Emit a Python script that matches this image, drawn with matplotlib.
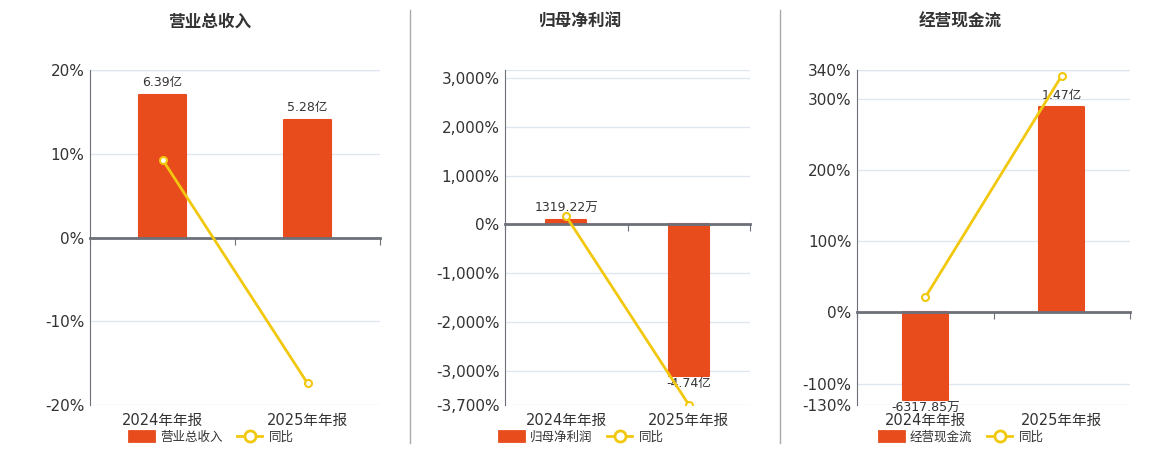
import matplotlib
matplotlib.use("Agg")
import matplotlib.pyplot as plt
from matplotlib.lines import Line2D
from matplotlib.patches import Patch
from matplotlib.ticker import FuncFormatter

plt.rcParams['font.family'] = ['DejaVu Sans', 'Noto Sans CJK SC']

categories = ['2024年年报', '2025年年报']

revenue = [6.39, 5.28]            # 亿
revenue_yoy = [9.3, -17.4]        # %
revenue_labels = ['6.39亿', '5.28亿']

profit = [0.1319, -4.74]          # 亿
profit_yoy = [164, -3693]
profit_labels = ['1319.22万', '-4.74亿']

cash = [-0.6318, 1.47]            # 亿
cash_yoy = [21, 332]
cash_labels = ['-6317.85万', '1.47亿']

BAR = '#E84B1C'
LINE = '#F2C80F'
AXC = '#6E7079'
GRID = '#E0E6F1'
TXT = '#333333'

W, H = 1160, 450
fig = plt.figure(figsize=(W / 100, H / 100), dpi=100)

panels = [
    # title, bars, yoy, labels, axes px (l, r), line ylim, yticks, bar units per %, title x, legend x
    ('营业总收入', revenue, revenue_yoy, revenue_labels, (90, 380), (-20, 20),
     [-20, -10, 0, 10, 20], 0.375, 210, 211),
    ('归母净利润', profit, profit_yoy, profit_labels, (505, 750), (-3700, 3165),
     [-3700, -3000, -2000, -1000, 0, 1000, 2000, 3000], 1 / 655.0, 580, 581),
    ('经营现金流', cash, cash_yoy, cash_labels, (857, 1130), (-130, 340),
     [-130, -100, 0, 100, 200, 300, 340], 1 / 195.6, 960, 961),
]

top_px, bot_px = 70, 405

for title, bars, yoy, labels, (l, r), ylim, yticks, k, tx, lx in panels:
    ax = fig.add_axes([l / W, 1 - bot_px / H, (r - l) / W, (bot_px - top_px) / H])
    ax2 = ax.twinx()
    ax.set_zorder(ax2.get_zorder() + 1)
    ax.patch.set_visible(False)

    x = list(range(len(categories)))
    ax.set_xlim(-0.5, 1.5)
    ax2.set_xlim(-0.5, 1.5)
    ax.set_ylim(*ylim)
    ax2.set_ylim(ylim[0] * k, ylim[1] * k)

    # grid sits under the bars, so it lives on the bar axes
    for t in list(yticks) + [ylim[1]]:
        ax2.axhline(t * k, color=GRID, lw=1, zorder=0)

    bc = ax2.bar(x, bars, width=0.33, color=BAR, edgecolor=BAR, linewidth=1.5, zorder=2)
    for p in bc:
        p.set_joinstyle('round')
    ax2.axis('off')

    for xi, v, lab in zip(x, bars, labels):
        if v >= 0:
            ax2.annotate(lab, (xi, v), xytext=(0, 4), textcoords='offset points',
                         ha='center', va='bottom', fontsize=9, color=TXT)
        else:
            ax2.annotate(lab, (xi, v), xytext=(0, -1), textcoords='offset points',
                         ha='center', va='top', fontsize=9, color=TXT)

    ax.plot(x, yoy, color=LINE, lw=2, marker='o', markersize=5,
            markerfacecolor='white', markeredgecolor=LINE, markeredgewidth=1.5, zorder=5)

    ax.set_yticks(yticks)
    ax.yaxis.set_major_formatter(FuncFormatter(lambda v, p: '{:,.0f}%'.format(v)))
    ax.tick_params(axis='y', length=0, labelsize=11, labelcolor=TXT, pad=4)

    for s in ['top', 'right']:
        ax.spines[s].set_visible(False)
    ax.spines['left'].set_color(AXC)
    ax.spines['bottom'].set_position(('data', 0))
    ax.spines['bottom'].set_color(AXC)
    ax.spines['bottom'].set_linewidth(2)
    ax.spines['bottom'].set_zorder(3)
    ax.set_xticks([-0.5, 0.5, 1.5])
    ax.set_xticklabels([])
    ax.tick_params(axis='x', length=5, color=AXC, direction='out')

    for xi, c in zip(x, categories):
        ax.text(xi, -0.025, c, transform=ax.get_xaxis_transform(), ha='center', va='top',
                fontsize=10.5, color=TXT)

    fig.text(tx / W, 1 - 22 / H, title, ha='center', va='center', fontsize=12,
             fontweight='bold', color=TXT, family=['Noto Sans CJK SC'])

    handles = [Patch(facecolor=BAR, edgecolor=BAR, joinstyle='round', linewidth=2),
               Line2D([0], [0], color=LINE, lw=2, marker='o', markersize=8,
                      markerfacecolor='white', markeredgecolor=LINE, markeredgewidth=2)]
    fig.legend(handles, [title, '同比'], loc='center', bbox_to_anchor=(lx / W, 1 - 437 / H),
               ncol=2, frameon=False, labelcolor=TXT, handlelength=2.0,
               handleheight=0.9, columnspacing=1.2, handletextpad=0.5,
               prop={'family': ['Noto Sans CJK SC'], 'size': 9})

for sx in (410, 780):
    fig.add_artist(Line2D([sx / W, sx / W], [1 - 10 / H, 1 - 443 / H], color='#AAAAAA', lw=1))

fig.savefig('out.png', dpi=100)
